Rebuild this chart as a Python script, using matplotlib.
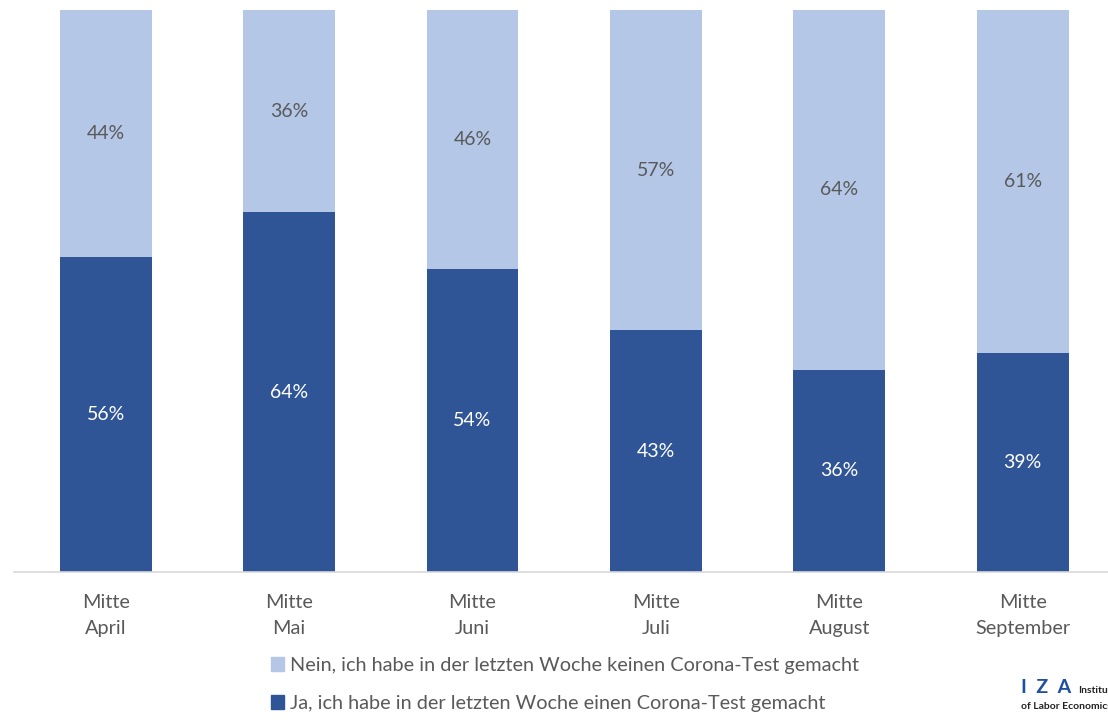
import matplotlib.pyplot as plt
from matplotlib.patches import Patch

# Survey shares (in %) per month
months = ["Mitte\nApril", "Mitte\nMai", "Mitte\nJuni", "Mitte\nJuli", "Mitte\nAugust", "Mitte\nSeptember"]
ja = [56, 64, 54, 43, 36, 39]
nein = [44, 36, 46, 57, 64, 61]

label_ja = "Ja, ich habe in der letzten Woche einen Corona-Test gemacht"
label_nein = "Nein, ich habe in der letzten Woche keinen Corona-Test gemacht"

DARK = "#2F5597"
LIGHT = "#B4C7E7"
GREY = "#595959"

plt.rcParams["font.family"] = ["Lato", "DejaVu Sans"]

fig = plt.figure(figsize=(11.08, 7.2), dpi=100)
ax = fig.add_axes([14 / 1108, 1 - 572 / 720, 1100.4 / 1108, 562 / 720])

x = range(len(months))
ax.bar(x, ja, width=0.5, color=DARK)
ax.bar(x, nein, width=0.5, bottom=ja, color=LIGHT)

for i in x:
    ax.text(i, ja[i] / 2, f"{ja[i]}%", ha="center", va="center",
            color="white", fontsize=14)
    ax.text(i, ja[i] + nein[i] / 2, f"{nein[i]}%", ha="center", va="center",
            color=GREY, fontsize=14)

ax.set_xlim(-0.5, len(months) - 0.5)
ax.set_ylim(0, 100)
ax.set_xticks(list(x))
ax.set_xticklabels(months, fontsize=14.3, color=GREY, linespacing=1.6)
ax.tick_params(axis="x", length=0, pad=16)
ax.set_yticks([])
for side in ["top", "left", "right"]:
    ax.spines[side].set_visible(False)
ax.spines["bottom"].set_color("#D9D9D9")
ax.spines["bottom"].set_linewidth(1.2)

handles = [Patch(color=LIGHT), Patch(color=DARK)]
fig.legend(handles, [label_nein, label_ja], loc="upper left",
           bbox_to_anchor=(271 / 1108, 1 - 657 / 720), frameon=False,
           fontsize=14.3, labelcolor=GREY, handlelength=0.65, handleheight=0.65,
           handletextpad=0.3, labelspacing=1.05, borderaxespad=0, borderpad=0)

# IZA logo in the corner, cut by the right edge
fig.text(1021 / 1108, 1 - 693 / 720, "I  Z  A", color="#1F4FA0", fontsize=14,
         fontweight="bold", va="baseline", ha="left")
fig.text(1078 / 1108, 1 - 693 / 720, "Institute", color="#222222", fontsize=7.5,
         fontweight="bold", va="baseline", ha="left")
fig.text(1021 / 1108, 1 - 709 / 720, "of Labor Economics", color="#222222",
         fontsize=7.5, fontweight="bold", va="baseline", ha="left")

fig.savefig("out.png", dpi=100)
